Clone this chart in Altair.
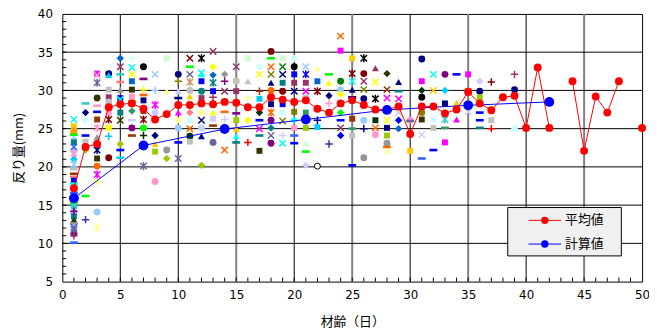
import altair as alt
import pandas as pd

# ---------------- axis / grid values ----------------
x_ticks = list(range(0, 51, 5))
y_ticks = list(range(5, 41, 5))
grid_x_black = [5, 10, 20, 30, 40]
grid_x_gray = [15, 25, 35, 45]
grid_y = [10, 15, 20, 25, 30, 35]
minor_x = list(range(1, 50))
minor_y = list(range(6, 40))

# ---------------- series: average (平均値) and calculated (計算値) ----------------
series_names = ["平均値", "計算値"]
series_colors = ["#ff0000", "#0000ff"]

avg_x = list(range(1, 43)) + [44, 45, 46, 47, 48, 50]
avg_y = [17.2, 22.6, 23.0, 27.8, 28.2, 28.3, 27.6, 26.2, 26.9, 28.1,
         28.1, 28.3, 28.2, 28.5, 28.4, 27.8, 27.8, 29.1, 28.8, 28.5,
         28.7, 27.6, 27.1, 28.3, 28.7, 28.1, 27.5, 27.5, 27.9, 24.3,
         27.9, 27.9, 27.0, 27.5, 29.8, 28.3, 27.4, 29.1, 29.3, 25.1,
         33.0, 25.1, 31.2, 22.1, 29.2, 27.1, 31.2, 25.1]

calc_x = [1, 7, 14, 21, 28, 35, 42]
calc_y = [15.9, 22.8, 24.95, 26.2, 27.45, 28.05, 28.5]

# ---------------- individual measurements: (反り量, marker, colour) per day ----------------
d01 = [(26.2, 'x', 'cyan'), (25.3, 's', 'gold'), (24.9, 't', 'gray'), (24.6, 'o', 'lorg'), (24.2, '-', 'bgrn'),
       (23.6, 'd', 'lblu'), (23.2, 's', 'teal'), (22.6, 'x', 'cblu'), (22.1, 'o', 'lblu'), (21.8, '*', 'pink'),
       (21.3, 't', 'mag'), (21.0, 'd', 'skyb'), (20.3, '*', 'lblu'), (19.7, '-', 'lgry'), (19.1, '-', 'brn'),
       (18.7, '-', 'salm'), (18.2, 's', 'blue'), (17.8, '-', 'cyan'), (16.6, '-', 'cblu'), (15.3, '-', 'bgrn'),
       (14.8, 'o', 'aqua'), (14.2, '+', 'pur'), (14.0, 'o', 'peri'), (13.5, 's', 'teal'), (13.1, 't', 'dolv'),
       (12.6, '-', 'gray'), (12.1, 'x', 'cblu'), (11.8, '*', 'slate'), (11.3, 'o', 'pur'), (11.0, '+', 'plum'),
       (10.1, '-', 'cblu')]
d02 = [(28.3, '-', 'aqua'), (27.1, 'd', 'navy'), (26.1, 'd', 'lcyn'), (24.1, '-', 'blue'), (23.3, 's', 'lgry'),
       (22.2, 'd', 'ygrn'), (16.2, '-', 'bgrn'), (13.1, '+', 'indigo')]
d03 = [(32.2, 's', 'mag'), (32.0, 'x', 'pink'), (31.0, '*', 'slate'), (29.0, 'o', 'dolv'), (28.0, '-', 'pink'),
       (27.2, '-', 'blue'), (26.2, 's', 'brn'), (25.1, '*', 'pink'), (23.9, 't', 'gray'), (23.0, 'o', 'pur'),
       (22.2, '*', 'navy'), (21.1, 's', 'dolv'), (20.1, 'o', 'org'), (19.0, '*', 'mag'), (18.1, 'o', 'lyel'),
       (14.1, 'o', 'lblu'), (12.1, '*', 'lyel')]
d04 = [(32.2, 'o', 'navy'), (32.0, 't', 'skyb'), (30.1, 's', 'lgry'), (29.1, 's', 'plum'), (28.5, 'o', 'lgry'),
       (27.1, 's', 'pink'), (26.2, '*', 'dred'), (25.1, 's', 'yel'), (24.0, '+', 'skyb'), (21.2, 'o', 'dred')]
d05 = [(34.2, 'd', 'stl'), (33.1, 'x', 'plum'), (32.1, '-', 'aqua'), (31.1, '-', 'salm'), (30.1, 't', 'gray'),
       (29.0, 's', 'blue'), (28.8, 'x', 'cyan'), (27.1, 's', 'teal'), (26.1, 'x', 'dolv'), (23.0, 'd', 'ygrn'),
       (22.2, '-', 'blue'), (21.2, '-', 'skyb')]
d06 = [(34.2, '+', 'lcyn'), (33.0, 'x', 'cyan'), (32.1, 'x', 'yel'), (31.2, 's', 'stl'), (30.1, 's', 'dolv'),
       (29.2, 's', 'pink'), (28.6, '-', 'lorg'), (27.3, 'd', 'sea'), (26.1, '-', 'lav'), (25.1, 'o', 'pur'),
       (24.1, '-', 'brn')]
d07 = [(33.1, 'o', 'blk'), (31.5, '-', 'pur'), (30.1, '+', 'yel'), (29.4, '-', 'org'), (28.7, 's', 'navy'),
       (27.3, 's', 'brn'), (26.2, '*', 'dred'), (25.1, 'o', 'bgrn'), (24.1, '+', 'dgrn'), (20.1, '*', 'slate')]
d08 = [(32.1, 'x', 'lblu'), (30.0, '+', 'lblu'), (28.1, '*', 'mag'), (27.1, 'o', 'lav'), (24.1, 'd', 'navy'),
       (23.0, 't', 'gold'), (22.0, 's', 'ygrn'), (18.1, 'o', 'pink')]
d09 = [(34.2, 's', 'lgrn'), (29.9, 't', 'lyel'), (22.2, 'o', 'gray'), (21.1, 'd', 'ygrn')]
d10 = [(32.1, 'o', 'navy'), (31.2, '+', 'olv'), (29.9, 't', 'lav'), (29.0, '-', 'navy'), (27.1, 't', 'mag'),
       (26.1, 's', 'lyel'), (25.1, 'o', 'lblu'), (23.2, '-', 'blue'), (21.1, '*', 'slate')]
d11 = [(34.2, 'x', 'dred'), (33.1, '-', 'bgrn'), (32.1, 'x', 'slate'), (31.1, '*', 'tan'), (30.0, 'o', 'lgry'),
       (29.2, 't', 'gold'), (27.1, 'd', 'salm'), (26.1, 's', 'lcyn'), (25.0, 'x', 'org'), (24.0, 'o', 'dgrn'),
       (23.3, 's', 'lgry')]
d12 = [(34.2, '*', 'blk'), (32.3, 'x', 'cyan'), (32.1, 't', 'cyan'), (31.2, 's', 'blue'), (29.9, 'o', 'teal'),
       (29.0, 's', 'plum'), (27.1, 'o', 'lyel'), (26.1, 'x', 'navy'), (25.1, 'o', 'lav'), (24.0, 't', 'navy'),
       (20.2, 'd', 'ygrn')]
d13 = [(35.1, 'x', 'plum'), (33.1, 'd', 'yel'), (32.0, 'd', 'stl'), (31.0, '*', 'teal'), (29.9, 's', 'blue'),
       (29.1, '+', 'plum'), (27.1, 't', 'yel'), (26.3, 's', 'lav'), (25.4, '-', 'brn'), (23.2, 'o', 'slate')]
d14 = [(32.1, 'd', 'gray'), (31.2, '+', 'pur'), (29.9, 'x', 'plum'), (27.2, '-', 'org'), (26.2, '+', 'lav'),
       (22.2, 'x', 'org')]
d15 = [(33.1, 'x', 'plum'), (31.2, 'o', 'lgry'), (29.9, 's', 'plum'), (27.0, '-', 'pur'), (26.1, 's', 'ygrn'),
       (25.0, 't', 'gold'), (24.0, 't', 'cyan'), (23.2, '-', 'teal')]
d16 = [(34.2, 's', 'lgrn'), (31.2, 't', 'lgry'), (29.1, 't', 'lyel'), (26.1, 'd', 'yel'), (23.2, '+', 'red')]
d17 = [(33.1, 'd', 'lcyn'), (32.1, 'x', 'yel'), (29.9, '+', 'brn'), (28.9, 's', 'skyb'), (27.1, 'd', 'dgrn'),
       (26.1, '-', 'blue'), (25.0, 'x', 'mag'), (24.1, '-', 'teal'), (22.1, 's', 'dolv')]
d18 = [(35.1, 'o', 'dred'), (34.2, '-', 'bgrn'), (33.1, 'x', 'org'), (32.1, 'x', 'olv'), (31.0, 't', 'navy'),
       (30.0, 'o', 'org'), (28.2, 's', 'navy'), (27.1, '*', 'org'), (26.1, 'o', 'pur'), (25.1, 'd', 'teal'),
       (24.1, 'x', 'slate'), (23.1, 'o', 'pur')]
d19 = [(34.2, 's', 'lgrn'), (33.1, 'x', 'grn'), (32.1, 'x', 'navy'), (31.0, 's', 'teal'), (29.9, 'o', 'dred'),
       (28.2, 's', 'blue'), (27.1, 's', 'lcyn'), (26.0, 'x', 'olv'), (24.1, '+', 'lav'), (23.1, 'x', 'cyan')]
d20 = [(34.2, 'o', 'lcyn'), (33.1, 'o', 'blk'), (32.1, 's', 'blue'), (31.0, 's', 'plum'), (29.9, 'x', 'navy'),
       (27.2, 's', 'olv'), (26.1, 'd', 'cyan'), (25.1, 's', 'pink'), (24.1, '-', 'cblu'), (23.1, '-', 'blue')]
d21 = [(33.1, 'x', 'lblu'), (32.1, '*', 'blue'), (31.0, 's', 'plum'), (29.9, 'x', 'mag'), (29.0, 'o', 'lgry'),
       (27.1, 's', 'sea'), (25.1, 's', 'ygrn'), (23.1, 't', 'lgrn'), (22.0, '-', 'bgrn'), (20.2, 'd', 'lav')]
d22 = [(32.9, 't', 'lyel'), (31.2, 's', 'stl'), (29.9, '*', 'dred'), (26.1, '+', 'navy'), (25.2, 's', 'skyb'),
       (20.1, 'w', 'blk')]
d23 = [(32.1, '-', 'bgrn'), (31.0, 't', 'yel'), (29.3, 'd', 'navy'), (28.3, '+', 'pink'), (23.0, '+', 'indigo')]
d24 = [(37.1, 'x', 'org'), (35.2, 's', 'mag'), (31.2, 'o', 'grn'), (30.1, 'o', 'lblu'), (29.5, 'd', 'yel'),
       (27.1, 'd', 'bgrn'), (26.1, '-', 'blue'), (25.1, 'x', 'plum'), (24.1, 'd', 'blue')]
d25 = [(34.2, 's', 'gold'), (32.2, '*', 'dred'), (31.2, 'x', 'cyan'), (30.1, 't', 'navy'), (29.1, '-', 'navy'),
       (26.3, 's', 'brn'), (25.0, '-', 'sea'), (24.1, 's', 'lgry'), (20.2, '-', 'blue')]
d26 = [(34.2, '*', 'blk'), (32.2, 'o', 'dred'), (31.2, 'x', 'plum'), (30.1, 'x', 'olv'), (28.9, 'o', 'navy'),
       (26.1, 'o', 'lblu'), (25.0, '+', 'navy'), (21.2, 'o', 'gray')]
d27 = [(32.9, 't', 'plum'), (31.1, 'x', 'yel'), (28.9, '*', 'blk'), (26.1, 's', 'dgrn'), (25.1, 'x', 'org'),
       (24.2, 'o', 'pink')]
d28 = [(32.2, 'd', 'dolv'), (30.1, 'x', 'brn'), (29.0, 'x', 'mag'), (26.1, 'x', 'yel'), (25.1, 's', 'navy'),
       (24.1, 's', 'ygrn'), (23.1, 'o', 'gray'), (22.6, '-', 'org'), (22.0, 'x', 'lyel')]
d29 = [(31.1, 't', 'navy'), (29.9, '-', 'teal'), (28.9, 'x', 'mag'), (27.1, 'x', 'lav'), (26.1, 'd', 'blue'),
       (25.0, 'd', 'stl')]
d30 = [(26.1, 'o', 'pink'), (26.0, '-', 'slate'), (22.1, 's', 'gold')]
d31 = [(34.1, 'o', 'navy'), (31.2, 's', 'mag'), (30.0, 'd', 'dgrn'), (29.1, 'o', 'blk'), (27.1, 'o', 'olv'),
       (26.2, 's', 'dolv'), (24.2, 'x', 'lav'), (21.1, '-', 'cblu')]
d32 = [(32.1, 'x', 'cyan'), (30.0, 'x', 'gold'), (26.2, 's', 'lcyn'), (25.1, 's', 'lgry'), (22.2, '-', 'blue')]
d33 = [(32.1, 'o', 'pur'), (30.0, 'd', 'skyb'), (28.3, 's', 'navy'), (26.2, '*', 'aqua'), (25.1, '-', 'sea'),
       (23.2, 's', 'mag')]
d34 = [(32.1, '-', 'blue'), (28.4, 't', 'gold'), (26.2, 't', 'mag')]
d35 = [(32.1, 's', 'mag'), (29.9, 'x', 'org'), (27.2, 'x', 'lav')]
d36 = [(31.2, 'd', 'lav'), (29.9, 'o', 'navy'), (29.1, 's', 'ygrn'), (27.1, '-', 'blue'), (26.1, '-', 'blue'),
       (25.1, '-', 'teal')]
d37 = [(31.1, '+', 'dred'), (26.1, 's', 'lgry'), (25.0, '+', 'red')]
d39 = [(32.1, '+', 'plum'), (30.1, 'o', 'navy'), (25.0, 'o', 'lcyn')]

day_lists = {1: d01, 2: d02, 3: d03, 4: d04, 5: d05, 6: d06, 7: d07, 8: d08, 9: d09, 10: d10,
             11: d11, 12: d12, 13: d13, 14: d14, 15: d15, 16: d16, 17: d17, 18: d18, 19: d19, 20: d20,
             21: d21, 22: d22, 23: d23, 24: d24, 25: d25, 26: d26, 27: d27, 28: d28, 29: d29, 30: d30,
             31: d31, 32: d32, 33: d33, 34: d34, 35: d35, 36: d36, 37: d37, 39: d39}

# ---------------- styles ----------------
palette = {
    'navy': '#000080', 'blue': '#0000ff', 'cyan': '#00ffff', 'mag': '#ff00ff', 'yel': '#ffff00',
    'dred': '#800000', 'pur': '#800080', 'teal': '#008080', 'org': '#ff6600', 'lgrn': '#ccffcc',
    'lcyn': '#ccffff', 'lav': '#ccccff', 'lyel': '#ffff99', 'pink': '#ff99cc', 'lblu': '#99ccff',
    'gray': '#969696', 'lgry': '#c0c0c0', 'dolv': '#333300', 'grn': '#008000', 'bgrn': '#00ff00',
    'ygrn': '#99cc00', 'olv': '#808000', 'slate': '#666699', 'dgrn': '#003300', 'sea': '#339966',
    'stl': '#0066cc', 'brn': '#993300', 'salm': '#ff8080', 'red': '#ff0000', 'blk': '#000000',
    'plum': '#993366', 'gold': '#ffcc00', 'skyb': '#00ccff', 'lorg': '#ff9900', 'cblu': '#3366ff',
    'tan': '#cc9966', 'aqua': '#33cccc', 'peri': '#9999ff', 'indigo': '#333399',
}
shape_path = {
    'o': 'circle', 's': 'square', 'd': 'diamond', 't': 'triangle-up', 'w': 'circle',
    '-': 'M-1,-0.33L1,-0.33L1,0.33L-1,0.33Z',
    'x': 'M-1,-1L1,1M-1,1L1,-1',
    '*': 'M-1,-1L1,1M-1,1L1,-1M0,-1.25L0,1.25',
    '+': 'M-1,0L1,0M0,-1L0,1',
}
shape_size = {'o': 49, 's': 36, 'd': 56, 't': 49, 'w': 36, '-': 64, 'x': 42, '*': 42, '+': 56}

rows = []
for day, items in day_lists.items():
    for (val, mk, col) in items:
        kind = 'stroke' if mk in ('x', '*', '+') else ('open' if mk == 'w' else 'fill')
        rows.append({'x': day, 'y': val, 'shape': shape_path[mk], 'size': shape_size[mk],
                     'color': palette[col], 'kind': kind})
scatter_df = pd.DataFrame(rows)

seg = [0]
for i in range(1, len(avg_x)):
    seg.append(seg[-1] + (1 if avg_x[i] - avg_x[i - 1] > 1 else 0))
avg_df = pd.DataFrame({'x': avg_x, 'y': avg_y, 'series': series_names[0], 'seg': seg})
calc_df = pd.DataFrame({'x': calc_x, 'y': calc_y, 'series': series_names[1], 'seg': 0})
line_df = pd.concat([avg_df, calc_df], ignore_index=True)

# ---------------- scales / axes ----------------
xs = alt.Scale(domain=[0, 50], nice=False, zero=False)
ys = alt.Scale(domain=[5, 40], nice=False, zero=False)
cs = alt.Scale(domain=series_names, range=series_colors)

x_axis = alt.Axis(values=x_ticks, grid=False, ticks=False, tickSize=0, domain=False,
                  labelFont='DejaVu Sans', labelFontSize=12, labelColor='black', labelPadding=8,
                  labelFlush=False, labelOverlap=False,
                  title='材齢（日）', titleFont='Noto Sans CJK JP', titleFontSize=13,
                  titleFontWeight='normal', titleColor='black', titlePadding=15)
y_axis = alt.Axis(values=y_ticks, grid=False, ticks=False, tickSize=0, domain=False,
                  labelFont='DejaVu Sans', labelFontSize=12, labelColor='black', labelPadding=10,
                  labelFlush=False, labelOverlap=False,
                  title='反り量(mm)', titleFont='Noto Sans CJK JP', titleFontSize=13,
                  titleFontWeight='normal', titleColor='black', titlePadding=12)


def X(f='x'):
    return alt.X(f + ':Q', scale=xs, axis=x_axis)


def Y(f='y'):
    return alt.Y(f + ':Q', scale=ys, axis=y_axis)


grid_v_black = alt.Chart(pd.DataFrame({'x': grid_x_black})).mark_rule(
    color='black', strokeWidth=1).encode(x=X())
grid_v_gray = alt.Chart(pd.DataFrame({'x': grid_x_gray})).mark_rule(
    color='#808080', strokeWidth=2).encode(x=X())
grid_h = alt.Chart(pd.DataFrame({'y': grid_y})).mark_rule(
    color='black', strokeWidth=1).encode(y=Y())
ticks_x = alt.Chart(pd.DataFrame({'x': minor_x})).mark_rule(
    color='black', strokeWidth=1).encode(x=X(), y=alt.value(271), y2=alt.value(267))
ticks_y = alt.Chart(pd.DataFrame({'y': minor_y})).mark_rule(
    color='black', strokeWidth=1).encode(y=Y(), x=alt.value(0), x2=alt.value(4))

sc_fill = alt.Chart(scatter_df).transform_filter("datum.kind == 'fill'").mark_point(
    filled=True, opacity=1, strokeWidth=0).encode(
    x=X(), y=Y(),
    shape=alt.Shape('shape:N', scale=None),
    fill=alt.Fill('color:N', scale=None),
    size=alt.Size('size:Q', scale=None))
sc_stroke = alt.Chart(scatter_df).transform_filter("datum.kind == 'stroke'").mark_point(
    filled=False, opacity=1, strokeWidth=1.5).encode(
    x=X(), y=Y(),
    shape=alt.Shape('shape:N', scale=None),
    stroke=alt.Stroke('color:N', scale=None),
    size=alt.Size('size:Q', scale=None))
sc_open = alt.Chart(scatter_df).transform_filter("datum.kind == 'open'").mark_point(
    filled=True, opacity=1, fill='white', stroke='black', strokeWidth=1, shape='circle', size=36).encode(
    x=X(), y=Y())

lines = alt.Chart(line_df).mark_line(strokeWidth=1).encode(
    x=X(), y=Y(),
    color=alt.Color('series:N', scale=cs, legend=None),
    detail='seg:N')
pts_avg = alt.Chart(avg_df).mark_point(filled=True, opacity=1, shape='circle', size=64).encode(
    x=X(), y=Y(),
    color=alt.Color('series:N', scale=cs, legend=None))
pts_calc = alt.Chart(calc_df).mark_point(filled=True, opacity=1, shape='circle', size=100).encode(
    x=X(), y=Y(),
    color=alt.Color('series:N', scale=cs, legend=None))

# ---------------- legend box (lower right, inside the plot) ----------------
legend_layers = [
    alt.Chart(pd.DataFrame({'k': [0]})).mark_rect(
        fill='#f0f0f0', stroke='black', strokeWidth=1).encode(
        x=alt.value(451), x2=alt.value(566), y=alt.value(196), y2=alt.value(245))
]
for i, (name, col) in enumerate(zip(series_names, series_colors)):
    ly = 209 + 24 * i
    entry = pd.DataFrame({'label': [name]})
    legend_layers.append(alt.Chart(entry).mark_rule(color=col, strokeWidth=1).encode(
        x=alt.value(472), x2=alt.value(505), y=alt.value(ly)))
    legend_layers.append(alt.Chart(entry).mark_point(
        filled=True, opacity=1, color=col, shape='circle', size=56).encode(
        x=alt.value(488.5), y=alt.value(ly)))
    legend_layers.append(alt.Chart(entry).mark_text(
        align='left', baseline='middle', font='Noto Sans CJK JP', fontSize=13, color='black').encode(
        x=alt.value(509), y=alt.value(ly), text='label:N'))

chart = alt.layer(
    grid_v_black, grid_v_gray, grid_h, ticks_x, ticks_y,
    sc_fill, sc_stroke, sc_open, lines, pts_avg, pts_calc, *legend_layers
).properties(
    width=587, height=271,
    padding={'left': 55, 'top': 4, 'right': 7, 'bottom': 48},
    autosize=alt.AutoSizeParams(type='none'),
    background='white'
).configure_view(stroke='black', strokeWidth=1)

chart.save('out.html', embed_options={'renderer': 'svg', 'actions': False})
